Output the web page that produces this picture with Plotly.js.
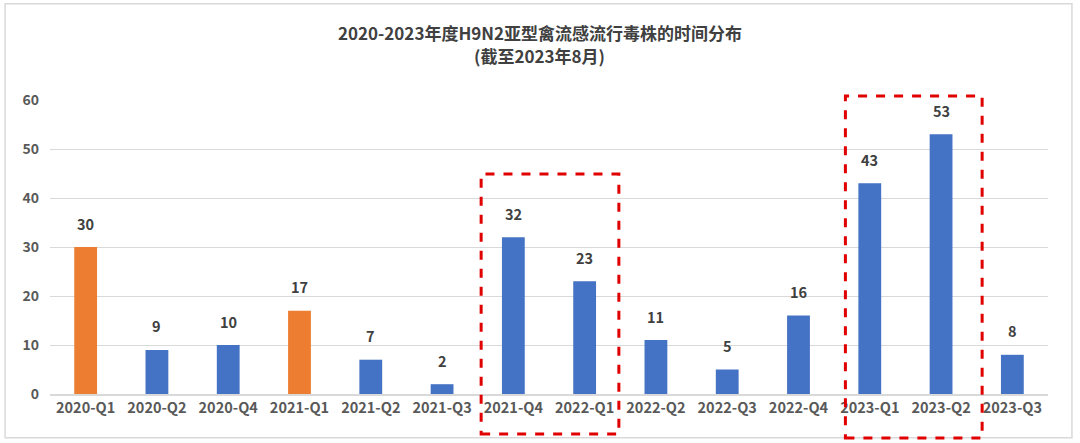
<!DOCTYPE html>
<html>
<head>
<meta charset="utf-8">
<script src="https://cdn.plot.ly/plotly-3.0.1.min.js"></script>
<style>
  html, body { margin: 0; padding: 0; background: #fff; }
  #chart { width: 1080px; height: 443px; }
</style>
</head>
<body>
<div id="chart"></div>
<script>
const quarters = ['2020-Q1', '2020-Q2', '2020-Q4', '2021-Q1', '2021-Q2', '2021-Q3', '2021-Q4',
  '2022-Q1', '2022-Q2', '2022-Q3', '2022-Q4', '2023-Q1', '2023-Q2', '2023-Q3'];
const strains = [30, 9, 10, 17, 7, 2, 32, 23, 11, 5, 16, 43, 53, 8];
const highlighted = ['2020-Q1', '2021-Q1'];

const BLUE = '#4472C4';
const ORANGE = '#ED7D31';
const FONT = '"Noto Sans CJK SC", "Noto Sans", sans-serif';

const chartDiv = document.getElementById('chart');

// labels sit well above the bars, like the original
const labels = quarters.map((q, i) => ({
  x: q, y: strains[i],
  text: '<b>' + strains[i] + '</b>',
  showarrow: false,
  yshift: 24,
  font: { family: FONT, size: 14.5, color: '#404040' },
}));

// second title line as its own text
labels.push({
  xref: 'paper', yref: 'paper', x: 0.49, y: 1.15,
  xanchor: 'center', yanchor: 'middle',
  text: '<b>(截至2023年8月)</b>',
  showarrow: false,
  font: { family: FONT, size: 17, color: '#404040' },
});

// the two red dashed boxes
const boxLine = { color: '#E00000', width: 3, dash: 'dash' };
const boxes = [
  { type: 'rect', xref: 'paper', yref: 'paper', x0: 0.432, x1: 0.570, y0: -0.136, y1: 0.748, line: boxLine },
  { type: 'rect', xref: 'paper', yref: 'paper', x0: 0.797, x1: 0.934, y0: -0.150, y1: 1.014, line: boxLine },
  // outer frame
  { type: 'rect', xref: 'paper', yref: 'paper', x0: -0.045, x1: 1.024, y0: -0.149, y1: 1.327,
    line: { color: '#d9d9d9', width: 1.5 }, layer: 'below' },
];

Plotly.newPlot(chartDiv, [{
  x: quarters,
  y: strains,
  type: 'bar',
  marker: { color: quarters.map(q => highlighted.includes(q) ? ORANGE : BLUE) },
  hoverinfo: 'x+y',
}], {
  width: 1080,
  height: 443,
  paper_bgcolor: '#fff',
  plot_bgcolor: '#fff',
  margin: { t: 100, r: 32, b: 49, l: 50 },
  bargap: 0.68,
  title: {
    text: '<b>2020-2023年度H9N2亚型禽流感流行毒株的时间分布</b>',
    x: 0.5, xanchor: 'center',
    y: 0.923, yanchor: 'middle',
    font: { family: FONT, size: 17, color: '#404040' },
  },
  xaxis: {
    type: 'category',
    showgrid: false,
    showline: true,
    linecolor: '#d9d9d9',
    linewidth: 1.5,
    ticks: '',
    tickfont: { family: FONT, size: 14.5, color: '#595959', weight: 'bold' },
  },
  yaxis: {
    range: [0, 60],
    dtick: 10,
    gridcolor: '#d9d9d9',
    gridwidth: 1.2,
    zeroline: false,
    ticks: '',
    ticklabelstandoff: 10,
    tickfont: { family: FONT, size: 14, color: '#595959', weight: 'bold' },
  },
  annotations: labels,
  shapes: boxes,
  showlegend: false,
}, { displayModeBar: false });
</script>
</body>
</html>
